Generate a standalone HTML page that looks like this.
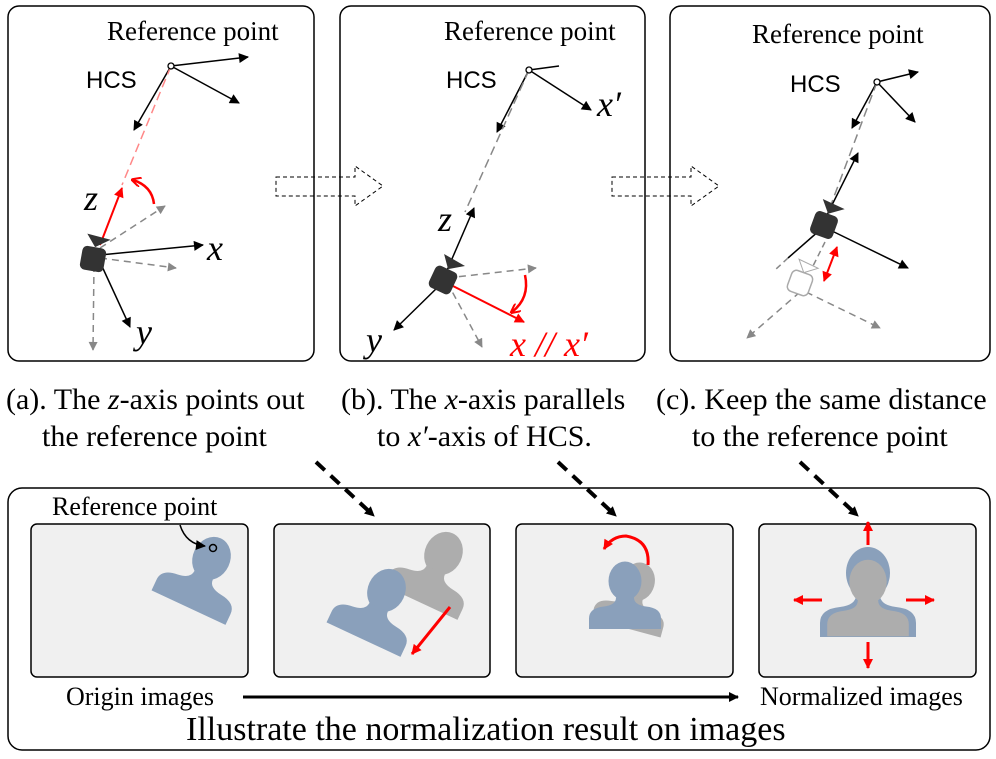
<!DOCTYPE html>
<html><head><style>
body{margin:0;background:#fff;}
svg{display:block;font-family:"Liberation Serif",serif;}
.s{font-family:"Liberation Sans",sans-serif;}
</style></head><body>
<svg width="996" height="759" viewBox="0 0 996 759" xmlns="http://www.w3.org/2000/svg">
<defs>
<marker id="ab" viewBox="0 0 10 10" refX="9" refY="5" markerUnits="userSpaceOnUse" markerWidth="12" markerHeight="10" orient="auto"><path d="M0,0 L10,5 L0,10 Z" fill="#000"/></marker>
<marker id="ag" viewBox="0 0 10 10" refX="9" refY="5" markerUnits="userSpaceOnUse" markerWidth="11" markerHeight="9" orient="auto"><path d="M0,0 L10,5 L0,10 Z" fill="#888"/></marker>
<marker id="ar" viewBox="0 0 10 10" refX="9" refY="5" markerUnits="userSpaceOnUse" markerWidth="12" markerHeight="10" orient="auto"><path d="M0,0 L10,5 L0,10 Z" fill="#f00"/></marker>
<marker id="ars" viewBox="0 0 10 10" refX="1" refY="5" markerUnits="userSpaceOnUse" markerWidth="12" markerHeight="10" orient="auto"><path d="M10,0 L0,5 L10,10 Z" fill="#f00"/></marker>
<marker id="arr" viewBox="0 0 10 10" refX="8" refY="5" markerUnits="userSpaceOnUse" markerWidth="10" markerHeight="10" orient="auto"><path d="M0,0 L10,5 L0,10" fill="none" stroke="#f00" stroke-width="2"/></marker>
<g id="head">
<ellipse cx="0" cy="-32" rx="22" ry="26"/>
<path d="M-48 32 L48 32 L48 18 Q48 4 28 2 Q12 0 12 -10 L-12 -10 Q-12 0 -28 2 Q-48 4 -48 18 Z"/>
</g>
<g id="cam"><rect x="-12" y="-12" width="24" height="24" rx="5" fill="#333"/><path d="M0,-12 L14,-22 L-10,-24 Z" fill="#333"/></g>
</defs>

<rect x="8" y="6" width="306" height="355" rx="11" fill="none" stroke="#000" stroke-width="1.5"/>
<rect x="340" y="6" width="305" height="355" rx="11" fill="none" stroke="#000" stroke-width="1.5"/>
<rect x="670" y="6" width="320" height="355" rx="11" fill="none" stroke="#000" stroke-width="1.5"/>

<path d="M276,177 L355,177 L355,166 L383,186 L355,206 L355,196 L276,196 Z" fill="none" stroke="#000" stroke-dasharray="4,3"/>
<path d="M612,177 L691,177 L691,166 L719,186 L691,206 L691,196 L612,196 Z" fill="none" stroke="#000" stroke-dasharray="4,3"/>

<!-- panel a -->
<text x="107" y="40" font-size="27">Reference point</text>
<text x="86" y="88" font-size="24" class="s">HCS</text>
<line x1="171" y1="66" x2="248" y2="57" stroke="#000" stroke-width="1.5" marker-end="url(#ab)"/>
<line x1="171" y1="66" x2="239" y2="103" stroke="#000" stroke-width="1.5" marker-end="url(#ab)"/>
<line x1="171" y1="66" x2="134" y2="130" stroke="#000" stroke-width="1.5" marker-end="url(#ab)"/>
<line x1="171" y1="66" x2="122" y2="185" stroke="#f88" stroke-width="1.5" stroke-dasharray="9,5"/>
<circle cx="171" cy="66" r="3" fill="#fff" stroke="#000" stroke-width="1.3"/>
<line x1="100" y1="245" x2="122" y2="188" stroke="#f00" stroke-width="2" marker-end="url(#ar)"/>
<path d="M154,204 Q152,186 133,180" fill="none" stroke="#f00" stroke-width="2.5" marker-end="url(#arr)"/>
<line x1="100" y1="248" x2="165" y2="206" stroke="#888" stroke-width="1.5" stroke-dasharray="7,5" marker-end="url(#ag)"/>
<line x1="100" y1="258" x2="176" y2="268" stroke="#888" stroke-width="1.5" stroke-dasharray="7,5" marker-end="url(#ag)"/>
<line x1="94" y1="265" x2="93" y2="350" stroke="#888" stroke-width="1.5" stroke-dasharray="7,5" marker-end="url(#ag)"/>
<line x1="100" y1="255" x2="203" y2="245" stroke="#000" stroke-width="1.5" marker-end="url(#ab)"/>
<line x1="100" y1="262" x2="130" y2="327" stroke="#000" stroke-width="1.5" marker-end="url(#ab)"/>
<g transform="translate(93,259) rotate(10)"><use href="#cam"/></g>
<text x="84" y="210" font-size="36" font-style="italic">z</text>
<text x="207" y="260" font-size="36" font-style="italic">x</text>
<text x="136" y="344" font-size="36" font-style="italic">y</text>

<!-- panel b -->
<text x="444" y="40" font-size="27">Reference point</text>
<text x="446" y="88" font-size="24" class="s">HCS</text>
<line x1="529" y1="70" x2="559" y2="66" stroke="#000" stroke-width="1.5"/>
<line x1="529" y1="70" x2="591" y2="110" stroke="#000" stroke-width="1.5" marker-end="url(#ab)"/>
<line x1="529" y1="70" x2="497" y2="132" stroke="#000" stroke-width="1.5" marker-end="url(#ab)"/>
<line x1="529" y1="70" x2="465" y2="212" stroke="#888" stroke-width="1.5" stroke-dasharray="9,5"/>
<circle cx="529" cy="70" r="3" fill="#fff" stroke="#000" stroke-width="1.3"/>
<text x="597" y="116" font-size="36" font-style="italic">x′</text>
<line x1="445" y1="275" x2="474" y2="208" stroke="#000" stroke-width="1.5" marker-end="url(#ab)"/>
<line x1="447" y1="278" x2="536" y2="268" stroke="#888" stroke-width="1.5" stroke-dasharray="7,5" marker-end="url(#ag)"/>
<line x1="447" y1="282" x2="482" y2="347" stroke="#888" stroke-width="1.5" stroke-dasharray="7,5" marker-end="url(#ag)"/>
<line x1="447" y1="283" x2="524" y2="322" stroke="#f00" stroke-width="2" marker-end="url(#ar)"/>
<path d="M525,275 Q530,298 512,312" fill="none" stroke="#f00" stroke-width="2.5" marker-end="url(#arr)"/>
<line x1="440" y1="285" x2="394" y2="330" stroke="#000" stroke-width="1.5" marker-end="url(#ab)"/>
<g transform="translate(443,280) rotate(25)"><use href="#cam"/></g>
<text x="438" y="231" font-size="36" font-style="italic">z</text>
<text x="366" y="352" font-size="36" font-style="italic">y</text>
<text x="510" y="356" font-size="36" font-style="italic" fill="#f00">x // x′</text>

<!-- panel c -->
<text x="752" y="43" font-size="27">Reference point</text>
<text x="790" y="92" font-size="24" class="s">HCS</text>
<line x1="877" y1="82" x2="918" y2="72" stroke="#000" stroke-width="1.5" marker-end="url(#ab)"/>
<line x1="877" y1="82" x2="915" y2="122" stroke="#000" stroke-width="1.5" marker-end="url(#ab)"/>
<line x1="877" y1="82" x2="852" y2="128" stroke="#000" stroke-width="1.5" marker-end="url(#ab)"/>
<line x1="877" y1="82" x2="829" y2="210" stroke="#888" stroke-width="1.5" stroke-dasharray="9,5"/>
<circle cx="877" cy="82" r="3" fill="#fff" stroke="#000" stroke-width="1.3"/>
<line x1="827" y1="215" x2="858" y2="153" stroke="#000" stroke-width="1.5" marker-end="url(#ab)"/>
<line x1="830" y1="230" x2="908" y2="268" stroke="#000" stroke-width="1.5" marker-end="url(#ab)"/>
<line x1="820" y1="230" x2="788" y2="258" stroke="#000" stroke-width="1.5"/>
<g transform="translate(824,225) rotate(20)"><use href="#cam"/></g>
<line x1="825" y1="242" x2="812" y2="268" stroke="#888" stroke-width="1.5" stroke-dasharray="6,4"/>
<line x1="800" y1="292" x2="747" y2="338" stroke="#888" stroke-width="1.5" stroke-dasharray="7,5" marker-end="url(#ag)"/>
<line x1="806" y1="292" x2="880" y2="328" stroke="#888" stroke-width="1.5" stroke-dasharray="7,5" marker-end="url(#ag)"/>
<line x1="788" y1="258" x2="775" y2="270" stroke="#888" stroke-width="1.5" stroke-dasharray="6,4"/>
<g transform="translate(800,283) rotate(20)"><rect x="-11" y="-11" width="22" height="22" rx="5" fill="#fff" stroke="#aaa" stroke-width="1.5"/><path d="M0,-11 L12,-20 L-9,-22 Z" fill="#fff" stroke="#aaa"/></g>
<line x1="837" y1="247" x2="824" y2="281" stroke="#f00" stroke-width="2" marker-start="url(#ars)" marker-end="url(#ar)"/>

<!-- captions -->
<text x="6" y="409" font-size="30">(a). The <tspan font-style="italic">z</tspan>-axis points out</text>
<text x="42" y="446" font-size="30">the reference point</text>
<text x="341" y="409" font-size="30">(b). The <tspan font-style="italic">x</tspan>-axis parallels</text>
<text x="377" y="446" font-size="30">to <tspan font-style="italic">x′</tspan>-axis of HCS.</text>
<text x="656" y="409" font-size="30">(c). Keep the same distance</text>
<text x="692" y="446" font-size="30">to the reference point</text>

<!-- bottom box -->
<rect x="8" y="488" width="982" height="262" rx="14" fill="none" stroke="#000" stroke-width="1.5"/>
<rect x="31" y="524" width="217" height="153" rx="6" fill="#f0f0f0" stroke="#000" stroke-width="1.5"/>
<rect x="274" y="524" width="216" height="153" rx="6" fill="#f0f0f0" stroke="#000" stroke-width="1.5"/>
<rect x="516" y="524" width="217" height="153" rx="6" fill="#f0f0f0" stroke="#000" stroke-width="1.5"/>
<rect x="759" y="524" width="217" height="153" rx="6" fill="#f0f0f0" stroke="#000" stroke-width="1.5"/>

<line x1="316" y1="462" x2="374" y2="516" stroke="#000" stroke-width="4" stroke-dasharray="12,8" marker-end="url(#ab)"/>
<line x1="558" y1="462" x2="616" y2="516" stroke="#000" stroke-width="4" stroke-dasharray="12,8" marker-end="url(#ab)"/>
<line x1="800" y1="462" x2="858" y2="516" stroke="#000" stroke-width="4" stroke-dasharray="12,8" marker-end="url(#ab)"/>

<!-- image 1 -->
<text x="52" y="515" font-size="26">Reference point</text>
<g transform="translate(200,583) rotate(25) scale(0.85)" fill="#8aa0bb"><use href="#head"/></g>
<path d="M180,525 Q186,544 205,546" fill="none" stroke="#000" stroke-width="1.5" marker-end="url(#ab)"/>
<circle cx="213" cy="548" r="3.5" fill="none" stroke="#000" stroke-width="1.5"/>

<!-- image 2 -->
<g transform="translate(432,578) rotate(25) scale(0.85)" fill="#adadad"><use href="#head"/></g>
<g transform="translate(375,615) rotate(25) scale(0.85)" fill="#8aa0bb"><use href="#head"/></g>
<line x1="450" y1="607" x2="412" y2="654" stroke="#f00" stroke-width="3" marker-end="url(#ar)"/>

<!-- image 3 -->
<g transform="translate(632,605) rotate(15) scale(0.75)" fill="#adadad"><use href="#head"/></g>
<g transform="translate(625,605) scale(0.75)" fill="#8aa0bb"><use href="#head"/></g>
<path d="M648,565 Q650,540 626,536 Q612,536 604,549" fill="none" stroke="#f00" stroke-width="3" marker-end="url(#ar)"/>

<!-- image 4 -->
<g transform="translate(868,605)" fill="#8aa0bb"><use href="#head"/></g>
<g transform="translate(868,609) scale(0.85)" fill="#adadad"><use href="#head"/></g>
<line x1="868" y1="545" x2="868" y2="522" stroke="#f00" stroke-width="3" marker-end="url(#ar)"/>
<line x1="868" y1="642" x2="868" y2="668" stroke="#f00" stroke-width="3" marker-end="url(#ar)"/>
<line x1="822" y1="600" x2="794" y2="600" stroke="#f00" stroke-width="3" marker-end="url(#ar)"/>
<line x1="906" y1="600" x2="934" y2="600" stroke="#f00" stroke-width="3" marker-end="url(#ar)"/>

<text x="66" y="705" font-size="26">Origin images</text>
<line x1="243" y1="697" x2="738" y2="697" stroke="#000" stroke-width="3" marker-end="url(#ab)"/>
<text x="760" y="705" font-size="26">Normalized images</text>
<text x="186" y="740" font-size="34">Illustrate the normalization result on images</text>
</svg>
</body></html>
